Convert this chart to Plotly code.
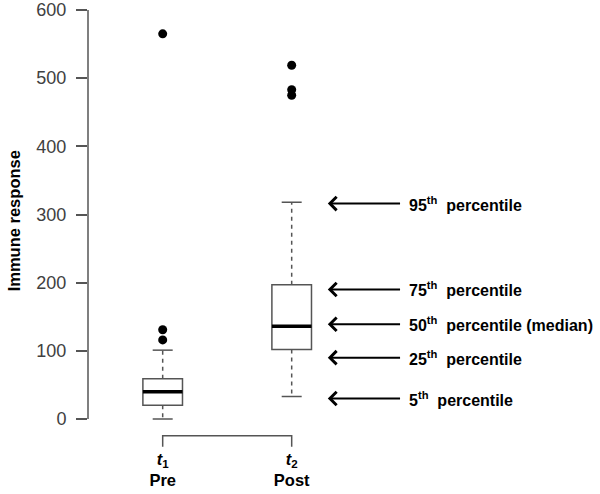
import plotly.graph_objects as go

# ---- data ----
groups = ["Pre", "Post"]
subscripts = ["1", "2"]
positions = [1, 2]
lower_whisker = [0, 33]
q1 = [20, 102]
median = [40, 136]
q3 = [59, 197]
upper_whisker = [101, 318]
outliers = [[116, 131, 565], [475, 483, 519]]

pct_values = [316, 190, 139, 90, 30]
pct_labels = ["95<sup>th</sup>  percentile", "75<sup>th</sup>  percentile",
              "50<sup>th</sup>  percentile (median)", "25<sup>th</sup>  percentile",
              "5<sup>th</sup>  percentile"]

y_ticks = [0, 100, 200, 300, 400, 500, 600]

# ---- style ----
GRAY = "#555555"
FONT = "Arial, Liberation Sans, sans-serif"
BOX_W = 0.307
CAP_W = 0.155
BRACKET_TOP = -24.5
BRACKET_BOTTOM = -40.6
ARROW_HEAD_X = 2.28
ARROW_TAIL_X = 2.84

fig = go.Figure()

for i, x in enumerate(positions):
    fig.add_trace(go.Box(
        x=[x], q1=[q1[i]], median=[median[i]], q3=[q3[i]],
        lowerfence=[q1[i]], upperfence=[q3[i]],
        width=BOX_W, fillcolor="white", whiskerwidth=0,
        line=dict(color=GRAY, width=1.5), boxpoints=False,
        hoverinfo="skip", showlegend=False))
    # median
    fig.add_trace(go.Scatter(
        x=[x - BOX_W / 2, x + BOX_W / 2], y=[median[i], median[i]],
        mode="lines", line=dict(color="black", width=3.5),
        hoverinfo="skip", showlegend=False))
    # whiskers (dashed)
    for a, b in [(q3[i], upper_whisker[i]), (q1[i], lower_whisker[i])]:
        fig.add_trace(go.Scatter(
            x=[x, x], y=[a, b], mode="lines",
            line=dict(color=GRAY, width=1.5, dash="4px,4px"),
            hoverinfo="skip", showlegend=False))
    # caps
    for v in [upper_whisker[i], lower_whisker[i]]:
        fig.add_trace(go.Scatter(
            x=[x - CAP_W / 2, x + CAP_W / 2], y=[v, v], mode="lines",
            line=dict(color=GRAY, width=1.5),
            hoverinfo="skip", showlegend=False))
    # outliers
    fig.add_trace(go.Scatter(
        x=[x] * len(outliers[i]), y=outliers[i], mode="markers",
        marker=dict(color="black", size=9),
        hoverinfo="skip", showlegend=False))

# bracket below the boxes
fig.add_trace(go.Scatter(
    x=[positions[0], positions[0], positions[1], positions[1]],
    y=[BRACKET_BOTTOM, BRACKET_TOP, BRACKET_TOP, BRACKET_BOTTOM],
    mode="lines", line=dict(color=GRAY, width=1.5),
    hoverinfo="skip", showlegend=False))

annotations = []
for v, lab in zip(pct_values, pct_labels):
    annotations.append(dict(
        x=ARROW_HEAD_X, y=v, ax=ARROW_TAIL_X, ay=v, axref="x", ayref="y",
        xref="x", yref="y", text="<b>" + lab + "</b>", showarrow=True,
        xanchor="left", yanchor="middle", borderpad=8,
        arrowhead=4, arrowsize=1.3, arrowwidth=2, arrowcolor="black",
        font=dict(family=FONT, size=16, color="black")))

annotations.append(dict(
    x=0, xref="paper", xshift=-74, y=290, yref="y",
    text="<b>Immune response</b>", textangle=-90, showarrow=False,
    xanchor="center", yanchor="middle",
    font=dict(family=FONT, size=16.5, color="black")))

px_per_unit = 409 / 600
y_top = (419 - 2) / px_per_unit
y_bottom = (419 - 447) / px_per_unit

fig.update_layout(
    width=600, height=494,
    margin=dict(l=88, r=0, t=2, b=47),
    plot_bgcolor="white", paper_bgcolor="white",
    showlegend=False,
    annotations=annotations,
    shapes=[dict(type="line", xref="paper", x0=0, x1=0, yref="y", y0=0, y1=600,
                 line=dict(color=GRAY, width=1.5))],
    xaxis=dict(range=[0.421, 4.390], showgrid=False, zeroline=False, showline=False,
               tickvals=positions,
               ticktext=["<b><i>t</i><sub>%s</sub></b><br><b>%s</b>" % (s, g)
                         for s, g in zip(subscripts, groups)],
               ticks="", tickfont=dict(family=FONT, size=16.5, color="black")),
    yaxis=dict(range=[y_bottom, y_top], showgrid=False, zeroline=False, showline=False,
               tickvals=y_ticks, ticks="outside", ticklen=11, tickwidth=1.5,
               tickcolor=GRAY, ticklabelstandoff=6,
               tickfont=dict(family=FONT, size=18, color="#404040")),
)

fig.write_html("out.html", config={"displayModeBar": False},
               post_script="document.body.style.margin='0';")
